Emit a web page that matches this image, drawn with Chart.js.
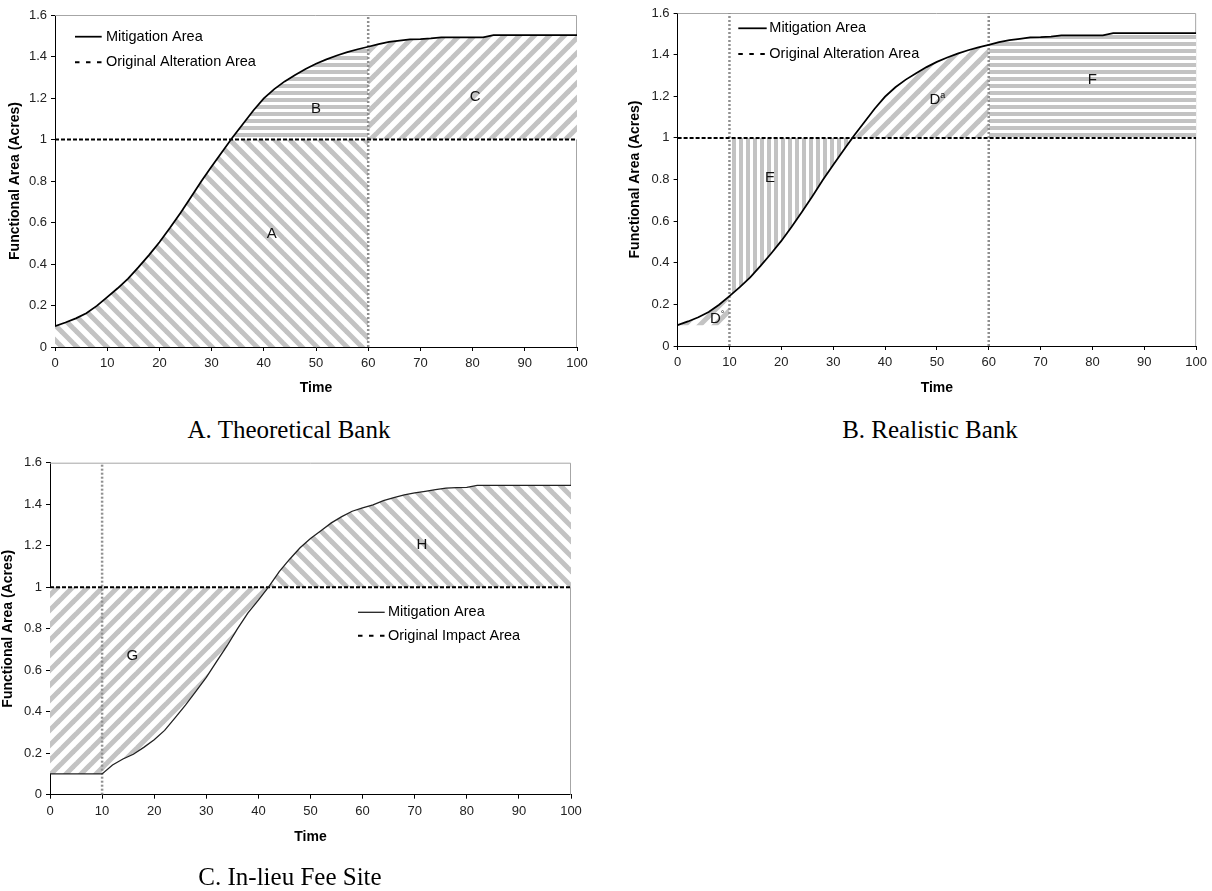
<!DOCTYPE html>
<html>
<head>
<meta charset="utf-8">
<script src="https://cdn.jsdelivr.net/npm/chart.js@4.4.1/dist/chart.umd.min.js"></script>
<style>
  body { margin: 0; background: #fff; width: 1212px; height: 891px; position: relative; overflow: hidden; }
  canvas { position: absolute; }
  .caption {
    position: absolute; white-space: nowrap; transform: translateX(-50%);
    font-family: "Liberation Serif", "Times New Roman", serif; font-size: 25px; line-height: 25px; color: #000;
  }
</style>
</head>
<body>
<canvas id="bankA" width="600" height="400" style="left:0;top:0"></canvas>
<canvas id="bankB" width="592" height="400" style="left:620px;top:0"></canvas>
<canvas id="feeC" width="600" height="420" style="left:0;top:450px"></canvas>
<div class="caption" style="left:289px;top:417px">A. Theoretical Bank</div>
<div class="caption" style="left:930px;top:417px">B. Realistic Bank</div>
<div class="caption" style="left:290px;top:864px">C. In-lieu Fee Site</div>
<script>
// values
const timeTicks = [0, 10, 20, 30, 40, 50, 60, 70, 80, 90, 100];
const areaTicks = [0, 0.2, 0.4, 0.6, 0.8, 1, 1.2, 1.4, 1.6];

// mitigation bank (panels A and B)
const bankTimes = [0, 2, 4, 6, 8, 10, 12, 14, 16, 18, 20, 22, 24, 26, 28, 30, 32, 34, 36, 38, 40,
  42, 44, 46, 48, 50, 52, 54, 56, 58, 60, 62, 64, 66, 68, 70, 72, 74, 76, 78, 80,
  82, 84, 86, 88, 90, 92, 94, 96, 98, 100];
const bankArea = [0.100, 0.118, 0.138, 0.163, 0.198, 0.240, 0.283, 0.330, 0.385, 0.443, 0.505,
  0.573, 0.645, 0.720, 0.798, 0.870, 0.940, 1.010, 1.075, 1.140, 1.198,
  1.243, 1.280, 1.311, 1.340, 1.365, 1.386, 1.405, 1.421, 1.435, 1.447,
  1.460, 1.470, 1.476, 1.483, 1.484, 1.487, 1.492, 1.492, 1.492, 1.492,
  1.492, 1.503, 1.503, 1.503, 1.503, 1.503, 1.503, 1.503, 1.503, 1.503];

// in-lieu fee site (panel C)
const feeTimes = bankTimes.slice();
const feeArea = [0.100, 0.100, 0.100, 0.100, 0.100, 0.100, 0.143, 0.172, 0.195, 0.228, 0.265,
  0.310, 0.370, 0.432, 0.498, 0.565, 0.643, 0.718, 0.800, 0.876, 0.938,
  1.003, 1.075, 1.135, 1.190, 1.235, 1.272, 1.310, 1.340, 1.366, 1.382,
  1.397, 1.417, 1.432, 1.445, 1.455, 1.462, 1.470, 1.477, 1.480, 1.481,
  1.491, 1.491, 1.491, 1.491, 1.491, 1.491, 1.491, 1.491, 1.491, 1.491];

const impactArea = 1;       // original alteration / impact area
const bankMarks = [60];     // dotted verticals, panel A
const realMarks = [10, 60]; // panel B
const feeMarks = [10];      // panel C

const FONT = '"Liberation Sans", Arial, sans-serif';
const GRAY = '#c3c3c3';
Chart.defaults.font.family = FONT;

function hatch(kind) {
  const size = (kind === 'horiz' || kind === 'vert') ? 7 : 15;
  const c = document.createElement('canvas');
  c.width = size; c.height = size;
  const g = c.getContext('2d');
  g.fillStyle = '#fff';
  g.fillRect(0, 0, size, size);
  g.fillStyle = GRAY; g.strokeStyle = GRAY;
  if (kind === 'horiz') g.fillRect(0, 0, size, 4);
  else if (kind === 'vert') g.fillRect(0, 0, 4, size);
  else {
    g.lineWidth = 5;
    g.lineCap = 'square';
    for (const o of [-size, 0, size]) {
      g.beginPath();
      if (kind === 'fwd') { g.moveTo(o - 3, size + 3); g.lineTo(o + size + 3, -3); }
      else { g.moveTo(o - 3, -3); g.lineTo(o + size + 3, size + 3); }
      g.stroke();
    }
  }
  return g.createPattern(c, 'repeat');
}

// part of a curve between two times, clamped between lo and hi
function band(times, values, from, to, lo, hi) {
  const pts = [];
  times.forEach((t, i) => {
    if (t >= from && t <= to) pts.push({ x: t, y: Math.min(Math.max(values[i], lo), hi) });
  });
  return pts;
}

function curve(label, times, values, width, color) {
  return { label, data: times.map((t, i) => ({ x: t, y: values[i] })),
    borderColor: color, borderWidth: width, pointRadius: 0, fill: false, tension: 0 };
}
function impactLine(label) {
  return { label, data: [{ x: 0, y: impactArea }, { x: 100, y: impactArea }],
    borderColor: '#000', borderWidth: 2, borderDash: [4, 2], legendDash: [4.5, 6.5], pointRadius: 0, fill: false };
}
function marks(times) {
  return times.map(t => ({ data: [{ x: t, y: 0 }, { x: t, y: 1.6 }],
    borderColor: '#909090', borderWidth: 2.5, borderDash: [2, 2], pointRadius: 0, fill: false }));
}
function region(data, fill, pattern) {
  return { data, fill, backgroundColor: pattern, borderWidth: 0, borderColor: 'rgba(0,0,0,0)', pointRadius: 0 };
}

const framePlugin = {
  id: 'frame',
  beforeDatasetsDraw(chart) {
    const { ctx, chartArea: a } = chart;
    ctx.save();
    ctx.strokeStyle = '#a6a6a6';
    ctx.lineWidth = 1;
    ctx.beginPath();
    ctx.moveTo(a.left, a.top + 0.5);
    ctx.lineTo(a.right - 0.5, a.top + 0.5);
    ctx.lineTo(a.right - 0.5, a.bottom);
    ctx.stroke();
    ctx.restore();
  }
};

const legendPlugin = {
  id: 'insideLegend',
  afterDatasetsDraw(chart, args, opts) {
    const ctx = chart.ctx;
    ctx.save();
    ctx.font = '14.5px ' + FONT;
    ctx.textBaseline = 'middle';
    ctx.fillStyle = '#000';
    opts.items.forEach((idx, row) => {
      const ds = chart.data.datasets[idx];
      const y = opts.y + row * opts.rowGap;
      ctx.beginPath();
      ctx.setLineDash(ds.legendDash || []);
      ctx.lineWidth = ds.borderWidth;
      ctx.strokeStyle = ds.borderColor;
      ctx.moveTo(opts.x, y);
      ctx.lineTo(opts.x + opts.len, y);
      ctx.stroke();
      ctx.setLineDash([]);
      ctx.fillText(ds.label, opts.x + opts.len + opts.gap, y);
    });
    ctx.restore();
  }
};

const labelPlugin = {
  id: 'regionLabels',
  afterDatasetsDraw(chart, args, opts) {
    const { ctx, scales: { x, y } } = chart;
    ctx.save();
    ctx.fillStyle = '#111';
    ctx.textBaseline = 'middle';
    for (const it of opts.items) {
      const px = x.getPixelForValue(it.t), py = y.getPixelForValue(it.v);
      ctx.font = '15px ' + FONT;
      ctx.textAlign = 'center';
      ctx.fillText(it.text, px, py);
      if (it.sup) {
        const w = ctx.measureText(it.text).width;
        ctx.font = '9px ' + FONT;
        ctx.textAlign = 'left';
        ctx.fillText(it.sup, px + w / 2, py - 4);
      }
    }
    ctx.restore();
  }
};

function makeChart(id, geo, datasets, legend, labels) {
  const canvas = document.getElementById(id);
  const lh = 14 * 1.2;
  const padLeft = Math.max(0, geo.yTitleX - lh / 2);
  const xH = geo.xTitleY + lh / 2 - geo.area.bottom;
  const axis = {
    grid: { display: true, drawOnChartArea: false, drawTicks: true, tickLength: 4, color: '#000', tickWidth: 1 },
    border: { display: true, color: '#000', width: 1 }
  };
  const titleFont = { size: 14, weight: 'bold', family: FONT };
  new Chart(canvas, {
    type: 'line',
    data: { datasets },
    options: {
      responsive: false, animation: false, events: [],
      layout: { padding: { left: padLeft, top: geo.area.top, right: canvas.width - geo.area.right,
        bottom: canvas.height - geo.area.bottom - xH } },
      scales: {
        x: Object.assign({
          type: 'linear', min: 0, max: 100,
          afterBuildTicks: s => { s.ticks = timeTicks.map(v => ({ value: v })); },
          afterFit: s => { s.height = xH; },
          ticks: { color: '#222', font: { size: 13 }, padding: 5, maxRotation: 0, autoSkip: false, callback: v => String(v) },
          title: { display: true, text: 'Time', color: '#000', font: titleFont, padding: 0 }
        }, axis),
        y: Object.assign({
          type: 'linear', min: 0, max: 1.6,
          afterBuildTicks: s => { s.ticks = areaTicks.map(v => ({ value: v })); },
          afterFit: s => { s.width = geo.area.left - padLeft; },
          ticks: { color: '#222', font: { size: 13 }, padding: 4, autoSkip: false, callback: v => String(v) },
          title: { display: true, text: 'Functional Area (Acres)', color: '#000', font: titleFont, padding: 0 }
        }, axis)
      },
      plugins: {
        legend: { display: false }, tooltip: { enabled: false },
        insideLegend: legend,
        regionLabels: { items: labels }
      }
    },
    plugins: [framePlugin, legendPlugin, labelPlugin]
  });
}

// A. Theoretical Bank
makeChart('bankA',
  { area: { left: 55, top: 15, right: 577, bottom: 347 }, yTitleX: 15, xTitleY: 388 },
  [
    curve('Mitigation Area', bankTimes, bankArea, 1.75, '#000'),
    impactLine('Original Alteration Area'),
    ...marks(bankMarks),
    region(band(bankTimes, bankArea, 0, 60, 0, impactArea), 'origin', hatch('back')),
    region(band(bankTimes, bankArea, 0, 60, impactArea, 9), { value: impactArea }, hatch('horiz')),
    region(band(bankTimes, bankArea, 60, 100, impactArea, 9), { value: impactArea }, hatch('fwd'))
  ],
  { items: [0, 1], x: 75, y: 36.7, len: 26.7, gap: 4.3, rowGap: 25.6 },
  [ { text: 'A', t: 41.5, v: 0.545 }, { text: 'B', t: 50, v: 1.147 }, { text: 'C', t: 80.5, v: 1.206 } ]
);

// B. Realistic Bank
makeChart('bankB',
  { area: { left: 57.6, top: 13, right: 579.6, bottom: 346 }, yTitleX: 15, xTitleY: 388 },
  [
    curve('Mitigation Area', bankTimes, bankArea, 1.75, '#000'),
    impactLine('Original Alteration Area'),
    ...marks(realMarks),
    region(band(bankTimes, bankArea, 0, 10, 0, 9), { value: bankArea[0] }, hatch('fwd')),
    region(band(bankTimes, bankArea, 10, 60, 0, impactArea), { value: impactArea }, hatch('vert')),
    region(band(bankTimes, bankArea, 10, 60, impactArea, 9), { value: impactArea }, hatch('fwd')),
    region(band(bankTimes, bankArea, 60, 100, impactArea, 9), { value: impactArea }, hatch('horiz'))
  ],
  { items: [0, 1], x: 118.3, y: 28.3, len: 28.4, gap: 2.6, rowGap: 25.7 },
  [ { text: 'D', sup: '°', t: 7.3, v: 0.131 }, { text: 'E', t: 17.8, v: 0.808 },
    { text: 'D', sup: 'a', t: 49.6, v: 1.184 }, { text: 'F', t: 80, v: 1.277 } ]
);

// C. In-lieu Fee Site
makeChart('feeC',
  { area: { left: 50, top: 12.7, right: 571, bottom: 344.7 }, yTitleX: 8, xTitleY: 387 },
  [
    curve('Mitigation Area', feeTimes, feeArea, 1.3, '#222'),
    impactLine('Original Impact Area'),
    ...marks(feeMarks),
    region(band(feeTimes, feeArea, 0, 100, 0, impactArea), { value: impactArea }, hatch('fwd')),
    region(band(feeTimes, feeArea, 0, 100, impactArea, 9), { value: impactArea }, hatch('back'))
  ],
  { items: [0, 1], x: 358, y: 162.3, len: 26.7, gap: 3.3, rowGap: 23.4 },
  [ { text: 'G', t: 15.8, v: 0.668 }, { text: 'H', t: 71.4, v: 1.203 } ]
);
</script>
</body>
</html>
